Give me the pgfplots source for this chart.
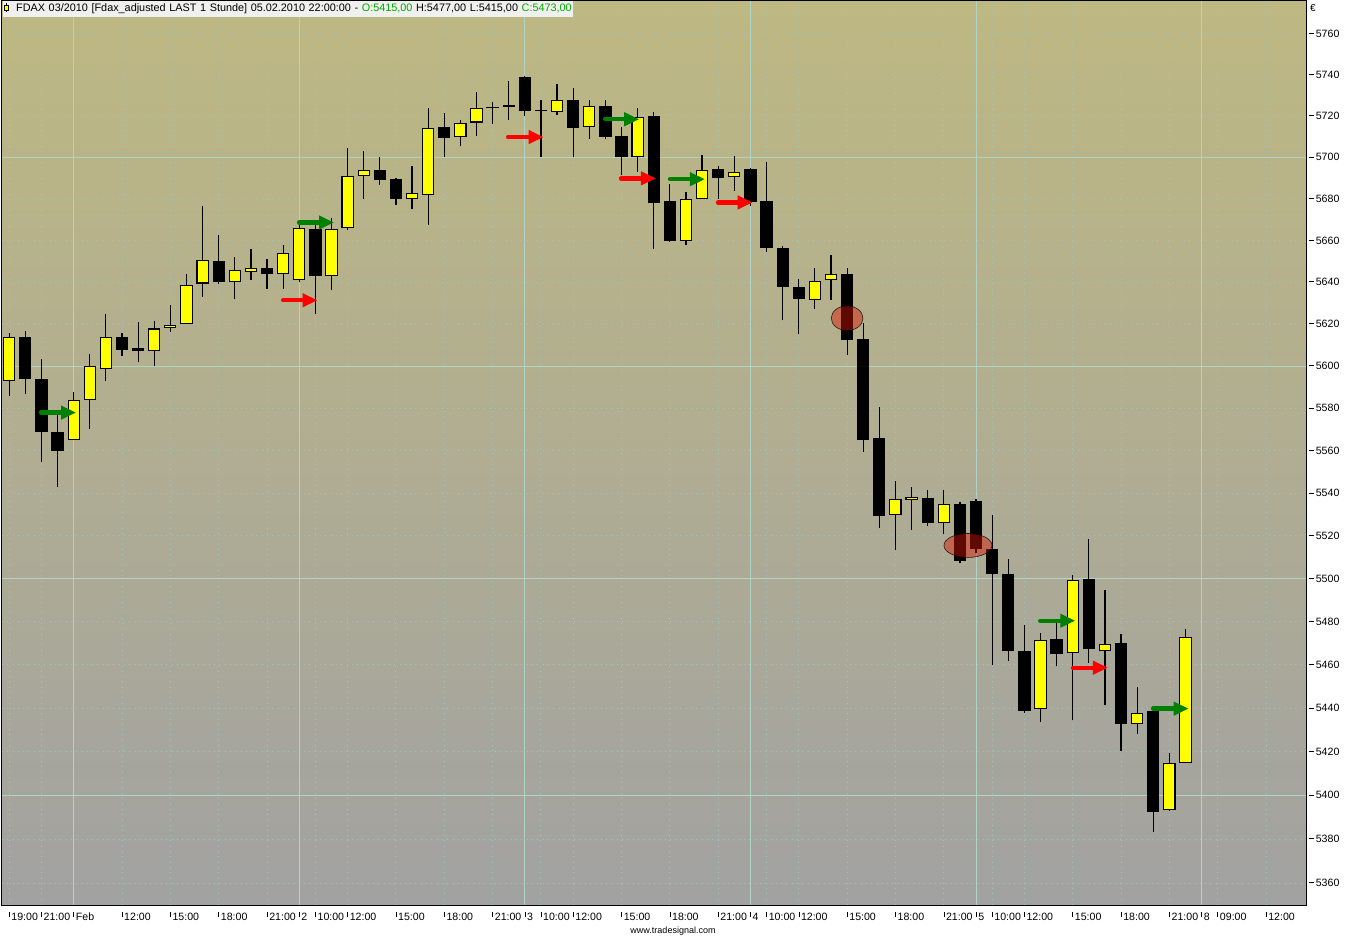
\documentclass[border=0pt]{standalone}
\usepackage{pgfplots}
\pgfplotsset{compat=1.18}
\usepackage{pgfplotstable}
\usepackage{fontspec}
\setmainfont{Liberation Sans}
\usetikzlibrary{arrows.meta}
\definecolor{gridsolid}{RGB}{176,212,196}
\definecolor{griddot}{RGB}{150,200,200}
\definecolor{bgtop}{RGB}{190,184,130}
\definecolor{bgbot}{RGB}{162,162,162}
\definecolor{candleyellow}{RGB}{255,255,0}
\definecolor{arrgreen}{RGB}{0,128,0}
\definecolor{arrred}{RGB}{255,0,0}
\definecolor{titlegreen}{RGB}{0,170,0}
\definecolor{titlebg}{RGB}{240,240,238}
\definecolor{ellfill}{RGB}{215,20,0}

% up (yellow) candles: bar index, open, high, low, close
\pgfplotstableread{
k O H L C
0 5593 5616 5586 5614
4 5565 5588 5565 5584
5 5584 5606 5570.5 5600
6 5599 5625 5593 5614
9 5607.5 5621.5 5600 5618
10 5618.5 5629 5616 5620
11 5620 5644 5620 5639
12 5639.5 5676.5 5633 5651
14 5640 5652 5632 5646
15 5645 5656 5641 5647
17 5644 5658 5637 5654
18 5641 5669 5640 5666
20 5643 5671 5636.5 5666
21 5666 5704.5 5665 5691
22 5691 5703 5680 5694
25 5680 5696 5675 5683
26 5682 5724 5667.5 5714.5
28 5710 5718 5705.5 5716.5
29 5717 5732 5710.5 5724
34 5722 5735.5 5720.5 5728
36 5714.5 5728 5709 5725
39 5700 5724 5693 5719.5
42 5660 5683.5 5658 5680
43 5680 5701.5 5680 5694
45 5690.5 5701 5684 5693
50 5631.5 5647 5627.5 5640.5
51 5641 5653 5631.5 5644
55 5530 5546 5513.5 5537.5
56 5537 5543 5523 5538.5
58 5526 5541.5 5521 5535
64 5440 5475 5434 5472
66 5465.5 5502 5434.5 5499.5
68 5466.5 5495 5441.5 5470
70 5433 5450 5428.5 5438
72 5393.5 5419.5 5393 5415
73 5415 5477 5415 5473
}\upcandles

% down (black) candles
\pgfplotstableread{
k O H L C
1 5614 5617 5587 5594
2 5594 5603.5 5555 5569
3 5569 5578 5543 5560
7 5614 5616 5605 5608
8 5609 5621 5602 5607.5
13 5650.5 5663 5639 5640
16 5647 5651 5637 5644
19 5666 5669 5625 5643
23 5694 5700.5 5687 5689
24 5689.5 5690 5677 5680
27 5715 5721.5 5700.5 5709.5
30 5724.5 5727 5716.5 5723.8
31 5725.2 5737 5718.3 5724.5
32 5739 5739.5 5720 5722.5
33 5723 5728 5700.5 5722.3
35 5728 5734 5700 5714
37 5725 5728 5709 5710
38 5710.5 5715 5691.5 5700.5
40 5720 5722 5656 5678
41 5679 5687.5 5659.5 5660
44 5694.5 5696 5680 5690
46 5694.5 5695 5676.5 5678.5
47 5679 5698 5654.5 5656.5
48 5656.5 5657.5 5622 5638
49 5638 5641.5 5615.5 5632
52 5644 5647 5605.5 5612.5
53 5613 5621 5559.5 5565
54 5566 5581 5524 5529.5
57 5538 5541.5 5525 5526
59 5535 5536.5 5507.5 5508.5
60 5536.5 5537.5 5512.5 5514
61 5514 5530 5460 5502.5
62 5502.5 5509.5 5462 5466.5
63 5466.5 5479 5438 5439
65 5472 5479.5 5459.5 5465
67 5500 5519 5461 5467.5
69 5470.5 5474.5 5420.5 5433
71 5439 5439.5 5383.5 5392.5
}\downcandles

% signal arrows: start bar, end bar, price
\pgfplotstableread{
k p
1.98 5578.2
4.15 5578.2
}\gA
\pgfplotstableread{
k p
17.99 5668.8
20.16 5668.8
}\gB
\pgfplotstableread{
k p
36.98 5718.5
39.10 5718.5
}\gC
\pgfplotstableread{
k p
41.01 5689.5
43.18 5689.5
}\gD
\pgfplotstableread{
k p
63.98 5480.7
66.16 5480.7
}\gE
\pgfplotstableread{
k p
70.99 5440.0
73.20 5440.0
}\gF
\pgfplotstableread{
k p
17.00 5631.6
19.14 5631.6
}\rA
\pgfplotstableread{
k p
30.96 5709.8
33.17 5709.8
}\rB
\pgfplotstableread{
k p
37.97 5690.0
40.14 5690.0
}\rC
\pgfplotstableread{
k p
43.99 5678.4
46.14 5678.4
}\rD
\pgfplotstableread{
k p
66.02 5458.9
68.19 5458.9
}\rE
\pgfplotstableread{
k p
52 5622.8
}\eA
\pgfplotstableread{
k p
59.5 5515.8
}\eB

\newcommand{\xtl}[1]{\rule[3pt]{0.9pt}{5pt}\hspace{1.6pt}#1}
\newcommand{\ytl}[1]{\rule[3.4pt]{5pt}{0.9pt}\hspace{1.6pt}#1}
% price axis is logarithmic: plotted value = 1000 ln(price/5000)
\def\LY#1{1000*ln(\thisrow{#1}/5000)}

\begin{document}
\begin{tikzpicture}
\path[use as bounding box] (0,0) rectangle (1348pt,937pt);
\fill[white] (0,0) rectangle (1348pt,937pt);
\begin{axis}[
  at={(2pt,32pt)}, anchor=south west,
  scale only axis, width=1304pt, height=904pt,
  xmin=-0.447, xmax=80.48,
  ymin=67.659, ymax=144.273,
  axis line style={black, line width=1pt},
  axis background/.style={top color=bgtop, bottom color=bgbot},
  xtick={0,2,4,7,10,13,16,18,19,21,24,27,30,32,33,35,38,41,44,46,47,49,52,55,58,60,61,63,66,69,72,74,75,78},
  xticklabels={\xtl{19:00},\xtl{21:00},\xtl{Feb},\xtl{12:00},\xtl{15:00},\xtl{18:00},\xtl{21:00},\xtl{2},\xtl{10:00},\xtl{12:00},\xtl{15:00},\xtl{18:00},\xtl{21:00},\xtl{3},\xtl{10:00},\xtl{12:00},\xtl{15:00},\xtl{18:00},\xtl{21:00},\xtl{4},\xtl{10:00},\xtl{12:00},\xtl{15:00},\xtl{18:00},\xtl{21:00},\xtl{5},\xtl{10:00},\xtl{12:00},\xtl{15:00},\xtl{18:00},\xtl{21:00},\xtl{8},\xtl{09:00},\xtl{12:00}},
  ytick={69.526,73.250,76.961,80.658,84.341,88.011,91.667,95.310,98.940,102.557,106.160,109.751,113.329,116.894,120.446,123.986,127.513,131.028,134.531,138.021,141.500},
  yticklabels={\ytl{5360},\ytl{5380},\ytl{5400},\ytl{5420},\ytl{5440},\ytl{5460},\ytl{5480},\ytl{5500},\ytl{5520},\ytl{5540},\ytl{5560},\ytl{5580},\ytl{5600},\ytl{5620},\ytl{5640},\ytl{5660},\ytl{5680},\ytl{5700},\ytl{5720},\ytl{5740},\ytl{5760}},
  xtick pos=bottom, ytick pos=right, yticklabel pos=right,
  major tick length=0pt, tick style={draw=none},
  xticklabel style={anchor=north west, inner sep=0pt, xshift=-0.45pt, yshift=-7pt, font=\fontsize{10.6pt}{12pt}\selectfont},
  yticklabel style={anchor=west, inner sep=0pt, xshift=3pt, font=\fontsize{10.6pt}{12pt}\selectfont},
  grid=major,
  major grid style={griddot, line width=0.9pt, dash pattern=on 1pt off 4.3pt},
  extra x ticks={4,18,32,46,60,74}, extra x tick labels={},
  extra x tick style={grid=major, major grid style={gridsolid, line width=1pt, solid}},
  extra y ticks={76.961,95.310,113.329,131.028}, extra y tick labels={},
  extra y tick style={grid=major, major grid style={gridsolid, line width=1pt, solid}},
]
% wicks
\addplot[draw=none, mark=none, forget plot, error bars/.cd, y dir=plus, y explicit, error mark=none,
  error bar style={draw=black, line width=1.2pt}]
  table[x=k, y expr=\LY{L}, y error plus expr={1000*ln(\thisrow{H}/\thisrow{L})}] {\upcandles};
\addplot[draw=none, mark=none, forget plot, error bars/.cd, y dir=plus, y explicit, error mark=none,
  error bar style={draw=black, line width=1.2pt}]
  table[x=k, y expr=\LY{L}, y error plus expr={1000*ln(\thisrow{H}/\thisrow{L})}] {\downcandles};
% bodies
\addplot[draw=none, mark=none, forget plot, error bars/.cd, y dir=plus, y explicit, error mark=none,
  error bar style={draw=black, line width=12.3pt}]
  table[x=k, y expr=\LY{O}, y error plus expr={1000*ln(\thisrow{C}/\thisrow{O})}] {\upcandles};
\addplot[draw=none, mark=none, forget plot, error bars/.cd, y dir=plus, y explicit, error mark=none,
  error bar style={draw=black, line width=12.3pt}]
  table[x=k, y expr=\LY{C}, y error plus expr={1000*ln(\thisrow{O}/\thisrow{C})}] {\downcandles};
\addplot[draw=none, mark=none, forget plot, error bars/.cd, y dir=plus, y explicit, error mark=none,
  error bar style={draw=candleyellow, line width=10.1pt}]
  table[x=k, y expr={\LY{O}+0.09}, y error plus expr={1000*ln(\thisrow{C}/\thisrow{O})-0.18}] {\upcandles};
% ellipses
\addplot[only marks, mark=*, mark size=12.3pt, forget plot,
  mark options={xscale=1.29, fill=ellfill, fill opacity=0.45, draw=black, draw opacity=0.8, line width=0.6pt}]
  table[x=k, y expr=\LY{p}] {\eA};
\addplot[only marks, mark=*, mark size=12pt, forget plot,
  mark options={xscale=2.0, fill=ellfill, fill opacity=0.45, draw=black, draw opacity=0.8, line width=0.6pt}]
  table[x=k, y expr=\LY{p}] {\eB};
% arrows
\pgfplotsset{sigarrow/.style={line width=4.3pt, line cap=round, -{Triangle[length=15pt,width=13pt]}, forget plot, mark=none}}
\addplot[arrgreen, sigarrow] table[x=k, y expr=\LY{p}] {\gA};
\addplot[arrgreen, sigarrow] table[x=k, y expr=\LY{p}] {\gB};
\addplot[arrgreen, sigarrow] table[x=k, y expr=\LY{p}] {\gC};
\addplot[arrgreen, sigarrow] table[x=k, y expr=\LY{p}] {\gD};
\addplot[arrgreen, sigarrow] table[x=k, y expr=\LY{p}] {\gE};
\addplot[arrgreen, sigarrow] table[x=k, y expr=\LY{p}] {\gF};
\addplot[arrred, sigarrow] table[x=k, y expr=\LY{p}] {\rA};
\addplot[arrred, sigarrow] table[x=k, y expr=\LY{p}] {\rB};
\addplot[arrred, sigarrow] table[x=k, y expr=\LY{p}] {\rC};
\addplot[arrred, sigarrow] table[x=k, y expr=\LY{p}] {\rD};
\addplot[arrred, sigarrow] table[x=k, y expr=\LY{p}] {\rE};
\end{axis}
% title box
\node[anchor=north west, fill=titlebg, inner sep=0pt, minimum height=16pt, text width=570pt, align=left, font=\fontsize{10.85pt}{12pt}\selectfont] at (3pt,936pt)
  {\hspace{13pt}FDAX 03/2010 [Fdax\_adjusted LAST 1 Stunde] 05.02.2010 22:00:00 - \textcolor{titlegreen}{O:5415,00} H:5477,00 L:5415,00 \textcolor{titlegreen}{C:5473,00}};
\draw[black, line width=0.8pt] (6.5pt,933.5pt) -- (6.5pt,924.5pt);
\filldraw[fill=candleyellow, draw=black, line width=0.6pt] (4.6pt,931.5pt) rectangle (8.4pt,926.3pt);
% euro sign and footer
\node[anchor=west, inner sep=0pt, font=\fontsize{10pt}{11pt}\selectfont] at (1310pt,929pt) {€};
\node[inner sep=0pt, font=\fontsize{9pt}{10pt}\selectfont] at (673pt,6pt) {www.tradesignal.com};
\end{tikzpicture}
\end{document}
